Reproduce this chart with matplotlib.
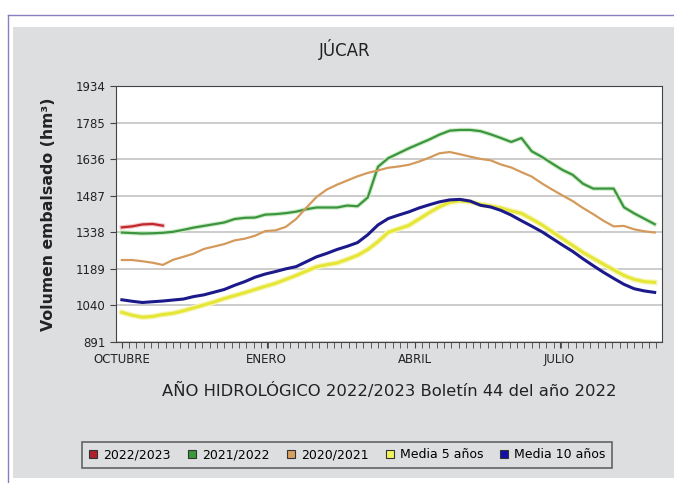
import numpy as np
import matplotlib.pyplot as plt
from matplotlib.patches import Rectangle
from matplotlib.lines import Line2D

# weekly values (hm3), hydrological year starting in October
weeks = np.arange(0, 53)

s_2022_23 = [1358, 1362, 1370, 1372, 1365]

s_2021_22 = [1337, 1335, 1333, 1334, 1336, 1340, 1348, 1357, 1364, 1371,
             1378, 1392, 1397, 1398, 1410, 1412, 1416, 1422, 1432, 1439,
             1439, 1439, 1447, 1444, 1480, 1605, 1640, 1660, 1680, 1698,
             1716, 1736, 1752, 1755, 1755, 1750, 1737, 1722, 1706, 1722,
             1668, 1645, 1618, 1592, 1572, 1536, 1516, 1516, 1516, 1440,
             1415, 1393, 1371]

s_2020_21 = [1225, 1225, 1220, 1214, 1205, 1226, 1238, 1251, 1270, 1280,
             1290, 1305, 1312, 1324, 1343, 1346, 1360, 1392, 1438, 1482,
             1512, 1532, 1549, 1566, 1580, 1590, 1601, 1606, 1613, 1626,
             1642, 1660, 1665, 1656, 1646, 1637, 1631, 1614, 1602, 1583,
             1565, 1537, 1512, 1488, 1465, 1437, 1412, 1385, 1362, 1364,
             1350, 1342, 1337]

media_5 = [1012, 1000, 992, 995, 1003, 1008, 1018, 1030, 1042, 1054,
           1068, 1080, 1092, 1105, 1118, 1130, 1146, 1162, 1180, 1197,
           1206, 1213, 1228, 1244, 1268, 1300, 1338, 1352, 1366, 1392,
           1418, 1442, 1460, 1466, 1462, 1452, 1445, 1437, 1425, 1415,
           1392, 1368, 1340, 1312, 1284, 1256, 1232, 1208, 1185, 1162,
           1146, 1137, 1134]

media_10 = [1063, 1057, 1052, 1055, 1058, 1062, 1066, 1076, 1083, 1094,
            1105, 1122, 1137, 1155, 1168, 1178, 1189, 1198, 1218, 1238,
            1252, 1268, 1281, 1296, 1328, 1368, 1394, 1408, 1421, 1437,
            1450, 1462, 1470, 1472, 1465, 1448, 1441, 1427, 1408, 1385,
            1363, 1340, 1313, 1286, 1260, 1230, 1202, 1175, 1150, 1126,
            1108, 1099, 1093]

y_ticks = [891, 1040, 1189, 1338, 1487, 1636, 1785, 1934]
month_labels = ["OCTUBRE", "ENERO", "ABRIL", "JULIO"]
month_days = [0, 99, 200, 299]

days = weeks * 7

fig = plt.figure(figsize=(6.74, 4.83), dpi=100, facecolor="white")

# grey panel and thin purple frame
fig.patches.append(Rectangle((13/674, 5/483), 1, 451/483, transform=fig.transFigure,
                             facecolor="#dcdee0", edgecolor="none", zorder=-10))
fig.lines.append(Line2D([8/674, 8/674], [0, 468/483], transform=fig.transFigure,
                        color="#8c7cc0", lw=1, zorder=-10))
fig.lines.append(Line2D([8/674, 1], [468/483, 468/483], transform=fig.transFigure,
                        color="#8c7cc0", lw=1, zorder=-10))

ax = fig.add_axes([116/674, 141/483, 546/674, 256/483])
ax.set_facecolor("white")

# soft halo under the lines, like the original image
ax.plot(days, s_2021_22, color="#cdeec6", lw=3.2, zorder=2)
ax.plot(days, media_5, color="#f6f6b8", lw=4, zorder=2)
ax.plot(days[:len(s_2022_23)], s_2022_23, color="#f2c4c4", lw=3.2, zorder=2)

ax.plot(days, s_2021_22, color="#3d9440", lw=1.6, zorder=3)
ax.plot(days, s_2020_21, color="#d49a5c", lw=1.6, zorder=3)
ax.plot(days, media_5, color="#e6e636", lw=2.2, zorder=3)
ax.plot(days, media_10, color="#1c1a8a", lw=2.2, zorder=4)
ax.plot(days[:len(s_2022_23)], s_2022_23, color="#c0282e", lw=1.6, zorder=4)

ax.set_ylim(891, 1934)
ax.set_xlim(-4, 369)
ax.set_yticks(y_ticks)
ax.set_xticks(month_days)
ax.set_xticklabels(month_labels)
ax.set_xticks(np.arange(0, 366, 5), minor=True)
ax.yaxis.grid(True, color="#c4c4c4", lw=1.2)
ax.set_axisbelow(True)
for sp in ax.spines.values():
    sp.set_color("#444444")
ax.tick_params(axis="both", which="both", direction="out", length=4, color="#444444",
               labelsize=8.5, labelcolor="#222222")
ax.tick_params(axis="x", which="major", length=4, pad=4)

ax.set_ylabel("Volumen embalsado (hm³)", fontsize=11.3, fontweight="bold",
              color="#222222", labelpad=14)
ax.set_xlabel("AÑO HIDROLÓGICO 2022/2023 Boletín 44 del año 2022", fontsize=11.8,
              color="#222222", labelpad=12)

fig.text(345/674, 1 - 50/483, "JÚCAR", ha="center", va="center", fontsize=12,
         color="#222222")

names = ["2022/2023", "2021/2022", "2020/2021", "Media 5 años", "Media 10 años"]
colors = ["#b0202a", "#3a9a3a", "#d8a060", "#f2f25a", "#1010a8"]
handles = [Line2D([], [], marker="s", ls="none", markersize=6, markerfacecolor=c,
                  markeredgecolor="#333333", markeredgewidth=0.8) for c in colors]
leg = fig.legend(handles, names, loc="center", bbox_to_anchor=(347/674, 1 - 455/483),
                 ncol=5, fontsize=9.0, frameon=True, fancybox=False,
                 handlelength=0.8, handletextpad=0.4, columnspacing=1.3,
                 borderpad=0.5)
leg.get_frame().set_edgecolor("#444444")
leg.get_frame().set_facecolor("#dcdee0")
leg.get_frame().set_linewidth(1.2)

plt.savefig("out.png", dpi=100, facecolor="white")
